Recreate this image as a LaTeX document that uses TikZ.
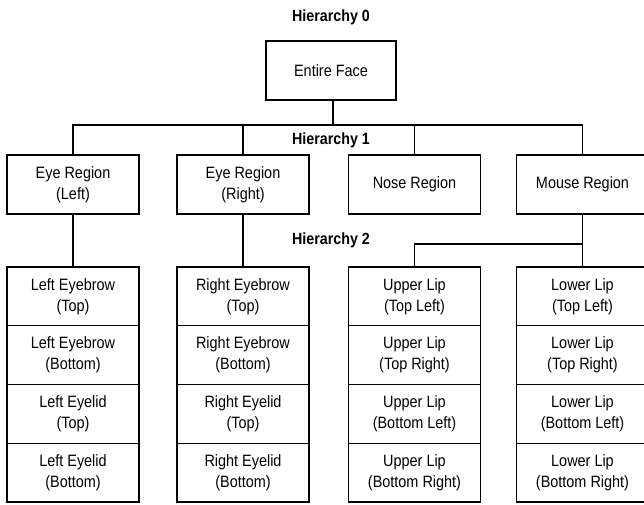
\documentclass[tikz,border=0pt]{standalone}
\usepackage{fontspec}
\setmainfont[FakeStretch=0.88]{Liberation Sans}
\usepackage{tikz}
\usetikzlibrary{calc}
\tikzstyle{region} = [draw, line width=1.4pt, minimum width=132pt, minimum height=59pt, align=center, inner sep=0pt, font=\fontsize{16.4}{21}\selectfont]
\tikzstyle{part} = [region, minimum height=58.75pt]
\tikzstyle{level} = [font=\fontsize{16.2}{18}\selectfont\bfseries]
\tikzstyle{wire} = [line width=1.4pt]

\begin{document}
\begin{tikzpicture}[x=1pt, y=-1pt]
	\useasboundingbox (0,0) rectangle (644,505);

	\node[level] (H0) at (331, 17) {Hierarchy 0};
	\node[level] (H1) at (331, 140) {Hierarchy 1};
	\node[level] (H2) at (331, 240) {Hierarchy 2};

	\node[region, minimum width=130pt] (face) at (331, 70.5) {Entire Face};

	\node[region] (eyeL) at (73, 184.5) {Eye Region\\(Left)};
	\node[region] (eyeR) at (243, 184.5) {Eye Region\\(Right)};
	\node[region] (nose) at (414.5, 184.5) {Nose Region};
	\node[region] (mouth) at (582.5, 184.5) {Mouse Region};

	\foreach \n/\a/\b in {1/Eyebrow/Top, 2/Eyebrow/Bottom, 3/Eyelid/Top, 4/Eyelid/Bottom}
	{
		\node[part] (LE\n) at (73, {237.6+58.75*\n}) {Left \a\\(\b)} ;
		\node[part] (RE\n) at (243, {237.6+58.75*\n}) {Right \a\\(\b)} ;
	}

	\foreach \n/\b in {1/Top Left, 2/Top Right, 3/Bottom Left, 4/Bottom Right}
	{
		\node[part] (UL\n) at (414.5, {237.6+58.75*\n}) {Upper Lip\\(\b)} ;
		\node[part] (LL\n) at (582.5, {237.6+58.75*\n}) {Lower Lip\\(\b)} ;
	}

	\coordinate (J0) at (333, 125) ;
	\coordinate (J2) at (582.5, 244) ;

	\draw[wire] (face.south -| J0) -- (J0) ;
	\draw[wire] (eyeL.north) |- (J0) -| (mouth.north) ;
	\draw[wire] (eyeR.north) -- (eyeR.north |- J0) ;
	\draw[wire] (nose.north) -- (nose.north |- J0) ;

	\draw[wire] (eyeL.south) -- (LE1.north) ;
	\draw[wire] (eyeR.south) -- (RE1.north) ;
	\draw[wire] (mouth.south) -- (LL1.north) ;
	\draw[wire] (UL1.north) |- (J2) ;
\end{tikzpicture}
\end{document}
